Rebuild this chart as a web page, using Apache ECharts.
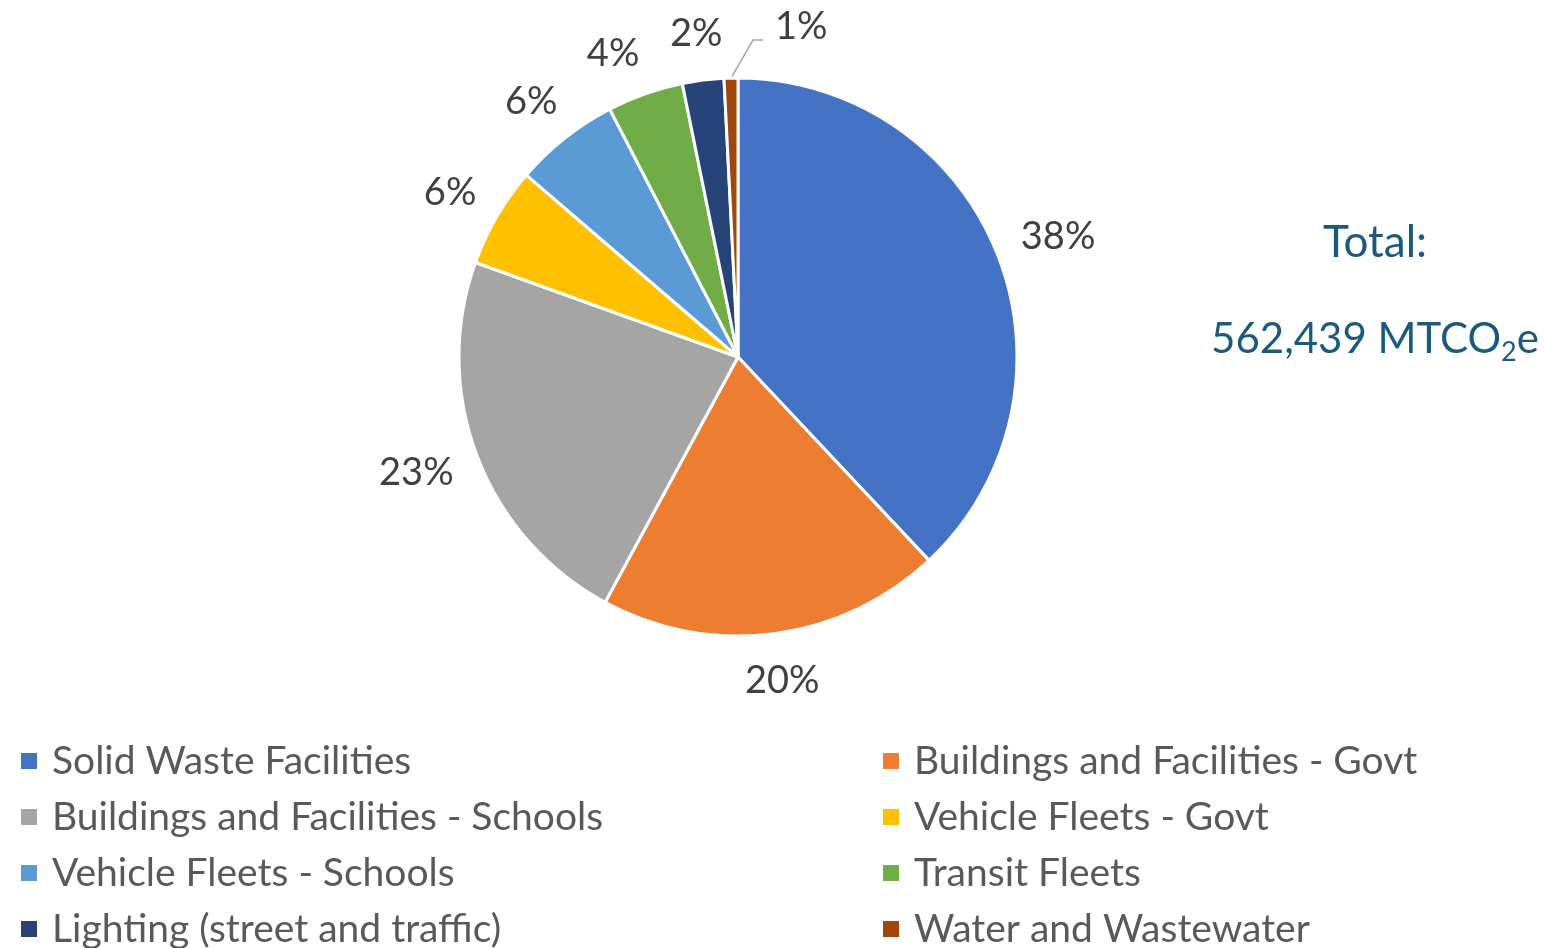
<!DOCTYPE html>
<html>
<head>
<meta charset="utf-8">
<script src="https://cdn.jsdelivr.net/npm/echarts@6/dist/echarts.min.js"></script>
<style>
  html, body { margin: 0; padding: 0; background: #fff; }
  #chart { width: 1545px; height: 948px; }
</style>
</head>
<body>
<div id="chart"></div>
<script>
  const categories = [
    'Solid Waste Facilities',
    'Buildings and Facilities - Govt',
    'Buildings and Facilities - Schools',
    'Vehicle Fleets - Govt',
    'Vehicle Fleets - Schools',
    'Transit Fleets',
    'Lighting (street and traffic)',
    'Water and Wastewater'
  ]
  // MTCO2e (sum = 562,439)
  const values = [213727, 111925, 127111, 32621, 34309, 24747, 13499, 4500]
  const colors = ['#4472C4', '#ED7D31', '#A5A5A5', '#FFC000', '#5B9BD5', '#70AD47', '#264478', '#9E480E']
  const totalLabel = '562,439'

  const font = 'Lato'
  const cx = 738, cy = 357, R = 279
  const total = values.reduce((a, b) => a + b, 0)

  const chart = echarts.init(document.getElementById('chart'))

  const legendBase = {
    orient: 'vertical', top: 736, height: 280,
    icon: 'rect', itemWidth: 18, itemHeight: 18, itemGap: 16,
    textStyle: { color: '#595959', fontSize: 39, fontFamily: font, lineHeight: 40, padding: [0, 0, 0, 9] }
  }

  const option = {
    animation: false,
    color: colors,
    title: [
      {
        text: 'Total:',
        left: 1370, top: 216,
        textAlign: 'center',
        textStyle: { color: '#1C5A7D', fontSize: 44, fontWeight: 'normal', fontFamily: font }
      },
      {
        text: '{a|' + totalLabel + ' MTCO}{b|2}{a|e}',
        left: 1370, top: 307,
        textAlign: 'center',
        textStyle: {
          fontFamily: font,
          fontWeight: 'normal',
          rich: {
            a: { color: '#1C5A7D', fontSize: 42, fontFamily: font, fontWeight: 'normal' },
            b: { color: '#1C5A7D', fontSize: 27, fontFamily: font, fontWeight: 'normal', padding: [27, 0, 0, 0] }
          }
        }
      }
    ],
    legend: [
      Object.assign({}, legendBase, { left: 14, data: categories.filter((c, i) => i % 2 === 0) }),
      Object.assign({}, legendBase, { left: 876, data: categories.filter((c, i) => i % 2 === 1) })
    ],
    series: [
      {
        type: 'pie',
        center: [cx, cy],
        radius: R,
        startAngle: 90,
        clockwise: true,
        itemStyle: { borderColor: '#fff', borderWidth: 3 },
        label: {
          show: true,
          position: 'outside',
          color: '#404040',
          fontSize: 38,
          fontFamily: font,
          formatter: p => Math.round(p.percent) + '%'
        },
        labelLine: { show: false, length: 20, length2: 10, lineStyle: { color: '#A6A6A6', width: 1.5 } },
        labelLayout: function (p) {
          const i = p.dataIndex
          const before = values.slice(0, i).reduce((a, b) => a + b, 0)
          const mid = (before + values[i] / 2) / total * Math.PI * 2
          const dx = Math.sin(mid), dy = -Math.cos(mid)
          const w = p.labelRect.width, h = p.labelRect.height
          if (i === values.length - 1) {
            // tiny slice: leader line up and to the right
            const p0 = [cx + dx * R, cy + dy * R]
            const p1 = [p0[0] + 22, p0[1] - 38]
            const p2 = [p1[0] + 10, p1[1]]
            return {
              x: p2[0] + 12, y: p2[1] - 13,
              align: 'left', verticalAlign: 'middle',
              labelLinePoints: [p0, p1, p2]
            }
          }
          const gap = 28
          return {
            x: cx + dx * (R + gap) + dx * w / 2 + (i === 5 ? -14 : 0),
            y: cy + dy * (R + gap) + dy * h / 2 + (i === 5 ? 4 : 0),
            align: 'center', verticalAlign: 'middle'
          }
        },
        data: categories.map((name, i) => {
          const item = { name, value: values[i] }
          if (i === values.length - 1) item.labelLine = { show: true }
          return item
        })
      }
    ]
  }

  chart.setOption(option)
</script>
</body>
</html>
